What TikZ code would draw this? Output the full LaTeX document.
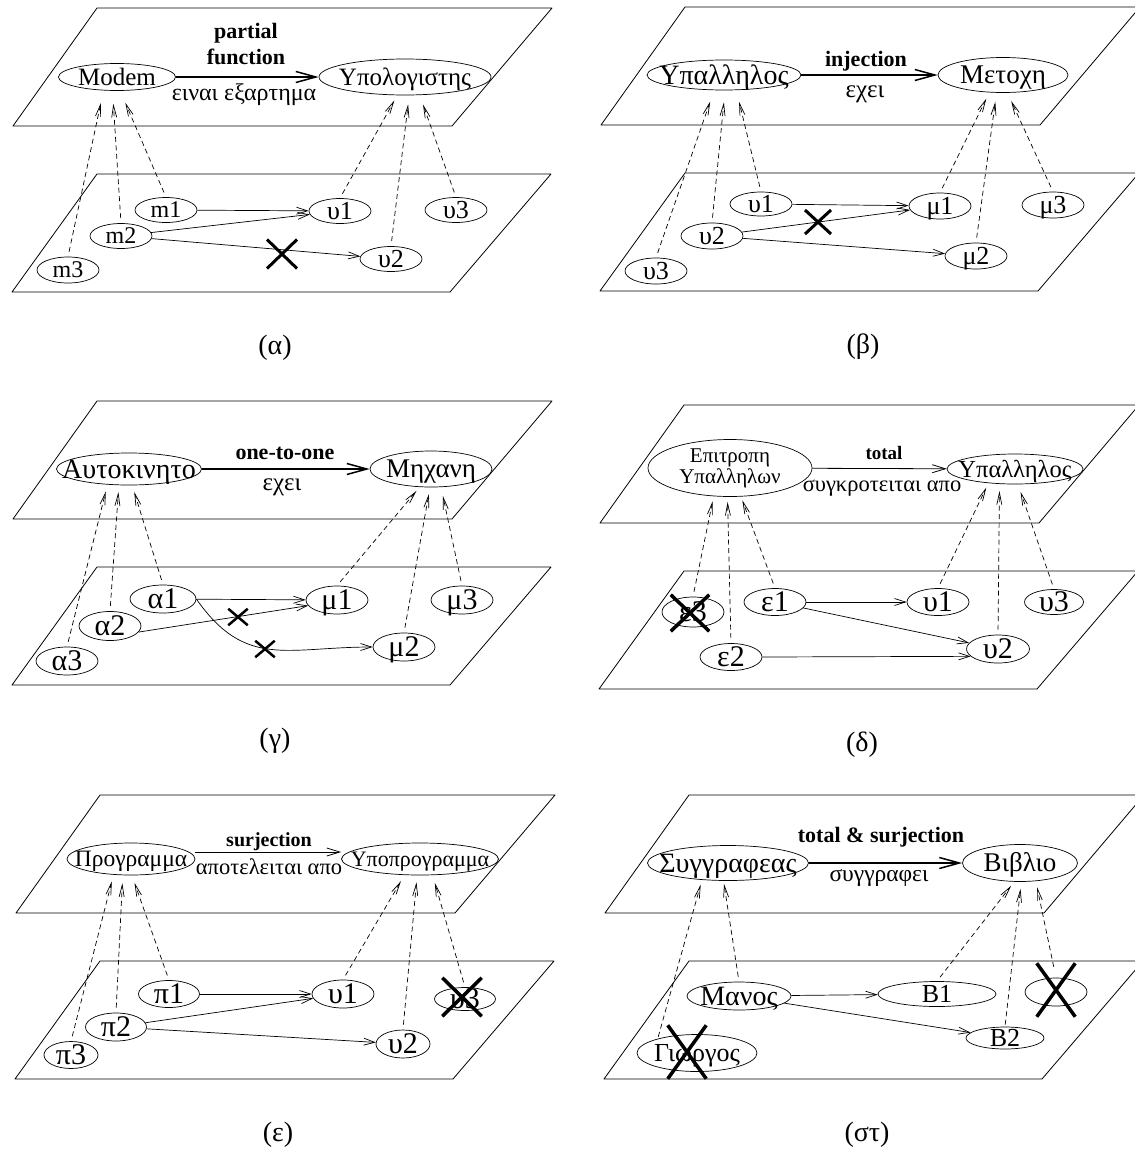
\documentclass[tikz,border=0pt]{standalone}
\usepackage{fontspec}
\setmainfont{Liberation Serif}
\usetikzlibrary{arrows.meta,shapes.misc,shapes.geometric}
\newcommand{\fsz}[1]{\fontsize{#1}{#1}\selectfont}
\tikzset{
  plane/.style={line width=0.8pt},
  fnt/.style={font=\fsz{#1}, text height=0.75*#1, text depth=0.09*#1},
  ent/.style={ellipse, draw, line width=0.7pt, inner xsep=-40pt, inner ysep=-15pt},
  inst/.style={ellipse, draw, line width=0.7pt, inner xsep=-40pt, inner ysep=-15pt,
    minimum width=62, minimum height=26},
  rel/.style={line width=1.5pt, -{Straight Barb[length=20pt,width=11pt]}},
  relthin/.style={line width=0.8pt, -{Straight Barb[length=13pt,width=8pt]}},
  map/.style={line width=0.7pt, -{Straight Barb[length=11pt,width=7pt]}},
  proj/.style={line width=0.7pt, dash pattern=on 5pt off 3.5pt,
    -{Straight Barb[length=12pt,width=5pt]}, shorten <=5pt, shorten >=8pt},
  nope/.style={cross out, draw, line width=3pt, inner sep=0pt},
  lbl/.style={inner sep=0pt},
  caption/.style={inner sep=0pt, font=\fsz{28}},
}
\begin{document}
\begin{tikzpicture}[x=1pt,y=-1pt,line join=round]
  \useasboundingbox (0,0) rectangle (1135,1149);
  % the two planes of every panel, with its caption
  \foreach \dx/\dy/\capt/\nm in {0/0/α/a, 588/-1/β/b, 0/393/γ/c,
      587/397/δ/d, 3/787/ε/e, 592/787/στ/f}{
    \begin{scope}[shift={(\dx,\dy)}]
      \draw[plane] (13,126) -- (452,126) -- (552,8) -- (97,8) -- cycle;
      \draw[plane] (12,292) -- (450,292) -- (551,174) -- (97,174) -- cycle;
      \node[caption] (cap-\nm) at (275,348) {(\capt)};
    \end{scope}
  }

  % (α) partial function
  \node[ent, fnt=25, minimum width=117, minimum height=27] (modem) at (117,77) {Modem};
  \node[ent, fnt=25, minimum width=172, minimum height=36] (pc) at (405,77) {Υπολογιστης};
  \node[lbl, font=\bfseries\fsz{22}] (a-name1) at (246,33) {partial};
  \node[lbl, font=\bfseries\fsz{22}] (a-name2) at (246,57) {function};
  \node[lbl, font=\fsz{24}] (a-verb) at (244,95) {ειναι εξαρτημα};
  \draw[rel] (modem) -- (pc);
  \node[inst, fnt=24, minimum height=25] (am1) at (166,210) {m1};
  \node[inst, fnt=24, minimum height=25] (am2) at (121,236) {m2};
  \node[inst, fnt=24] (am3) at (68,270) {m3};
  \node[inst, fnt=26, minimum height=25] (au1) at (340,211) {υ1};
  \node[inst, fnt=26, minimum height=25] (au2) at (391,259) {υ2};
  \node[inst, fnt=26, minimum height=25] (au3) at (456,210) {υ3};
  \draw[map] (am1) -- (au1);
  \draw[map] (am2) -- (au1);
  \draw[map] (am2) -- (au2);
  \node[nope, minimum width=27, minimum height=26] (ax) at (282,254) {};
  \draw[proj, shorten >=13pt] (am3.north) -- (modem.225);
  \draw[proj, shorten >=13pt] (am2.north) -- (modem.252);
  \draw[proj, shorten >=13pt] (am1.north) -- (modem.283);
  \draw[proj, shorten >=6pt] (au1.north) -- (pc.247);
  \draw[proj, shorten >=9pt] (au2.north) -- (pc.283);
  \draw[proj, shorten >=10pt] (au3.north) -- (pc.309);

  % (β) injection
  \node[ent, fnt=28, minimum width=154, minimum height=30] (emp) at (724,75) {Υπαλληλος};
  \node[ent, fnt=27, minimum width=130, minimum height=35] (share) at (1003,75) {Μετοχη};
  \node[lbl, font=\bfseries\fsz{22}] (b-name) at (866,61) {injection};
  \node[lbl, font=\fsz{25}] (b-verb) at (865,94) {εχει};
  \draw[rel] (emp) -- (share);
  \node[inst, fnt=26, minimum height=24] (bu1) at (761,204) {υ1};
  \node[inst, fnt=26] (bu2) at (712,236) {υ2};
  \node[inst, fnt=26] (bu3) at (656,271) {υ3};
  \node[inst, fnt=26] (bm1) at (940,206) {μ1};
  \node[inst, fnt=26] (bm2) at (976,256) {μ2};
  \node[inst, fnt=26] (bm3) at (1053,205) {μ3};
  \draw[map] (bu1) -- (bm1);
  \draw[map] (bu2) -- (bm1);
  \draw[map] (bu2) -- (bm2);
  \node[nope, minimum width=23, minimum height=21] (bx) at (818,222) {};
  \draw[proj, shorten >=12pt] (bu3.north) -- (emp.237);
  \draw[proj, shorten >=12pt] (bu2.north) -- (emp.274);
  \draw[proj, shorten >=12pt] (bu1.north) -- (emp.309);
  \draw[proj, shorten >=7pt] (bm1.north) -- (share.232);
  \draw[proj, shorten >=9pt] (bm2.north) -- (share.250);
  \draw[proj, shorten >=9pt] (bm3.north) -- (share.284);

  % (γ) one-to-one
  \node[ent, fnt=28, minimum width=145, minimum height=32] (car) at (129,469) {Αυτοκινητο};
  \node[ent, fnt=27, minimum width=122, minimum height=36] (engine) at (431,469) {Μηχανη};
  \node[lbl, font=\bfseries\fsz{22}] (c-name) at (285,453) {one-to-one};
  \node[lbl, font=\fsz{25}] (c-verb) at (282,487) {εχει};
  \draw[rel] (car) -- (engine);
  \node[inst, fnt=30, minimum width=66, minimum height=28] (ga1) at (163,599) {α1};
  \node[inst, fnt=30, minimum height=29] (ga2) at (110,626) {α2};
  \node[inst, fnt=30, minimum height=28] (ga3) at (67,661) {α3};
  \node[inst, fnt=30, minimum height=28] (gm1) at (337,600) {μ1};
  \node[inst, fnt=30, minimum height=28] (gm2) at (404,647) {μ2};
  \node[inst, fnt=30, minimum height=28] (gm3) at (462,600) {μ3};
  \draw[map] (ga1) -- (gm1);
  \draw[map] (ga2.-12) -- (gm1.191);
  \draw[map] (ga1.east) to[out=-55,in=180,looseness=1.2] (gm2.west);
  \node[nope, line width=2.5pt, minimum width=17, minimum height=14] (gx1) at (238,617) {};
  \node[nope, line width=2.5pt, minimum width=17, minimum height=14] (gx2) at (265,649) {};
  \draw[proj, shorten >=7pt] (ga3.north) -- (car.216);
  \draw[proj, shorten >=7pt] (ga2.north) -- (car.238);
  \draw[proj, shorten >=7pt] (ga1.north) -- (car.281);
  \draw[proj, shorten >=5pt] (gm1.north) -- (engine.238);
  \draw[proj, shorten >=7pt] (gm2.north) -- (engine.267);
  \draw[proj, shorten >=9pt] (gm3.north) -- (engine.299);

  % (δ) total
  \node[ent, font=\fontsize{21}{21}\selectfont, align=center, minimum width=164,
    minimum height=57] (board) at (730,468) {Επιτροπη\\Υπαλληλων};
  \node[ent, fnt=24.5, minimum width=136, minimum height=30] (employee) at (1015,469) {Υπαλληλος};
  \node[lbl, font=\bfseries\fsz{19}] (d-name) at (884,453) {total};
  \node[lbl, font=\fsz{22.5}] (d-verb) at (882,488) {συγκροτειται απο};
  \draw[relthin] (board) -- (employee);
  \node[inst, fnt=30, minimum height=30] (de3) at (693,612) {ε3};
  \node[inst, fnt=30, minimum height=27] (de1) at (775,602) {ε1};
  \node[inst, fnt=30, minimum height=27] (de2) at (731,657) {ε2};
  \node[inst, fnt=30, minimum height=27] (du1) at (938,602) {υ1};
  \node[inst, fnt=30, minimum width=63, minimum height=28] (du2) at (998,649) {υ2};
  \node[inst, fnt=30, minimum width=59, minimum height=25] (du3) at (1054,602) {υ3};
  \draw[map] (de1) -- (du1);
  \draw[map] (de1) -- (du2);
  \draw[map] (de2.east) -- (du2.195);
  \node[nope, line width=3.5pt, minimum width=35, minimum height=33] (dx) at (690,613) {};
  \draw[proj, shorten >=5pt] (de3.north) -- (board.240);
  \draw[proj, shorten >=5pt] (de2.north) -- (board.265);
  \draw[proj, shorten >=4pt] (de1.north) -- (board.291);
  \draw[proj, shorten >=5pt] (du1.north) -- (employee.208);
  \draw[proj, shorten >=7pt] (du2.north) -- (employee.224);
  \draw[proj, shorten >=8pt] (du3.north) -- (employee.281);

  % (ε) surjection
  \node[ent, fnt=23.5, minimum width=128, minimum height=32] (prog) at (131,859) {Προγραμμα};
  \node[ent, fnt=22, minimum width=157, minimum height=32] (sub) at (420,859) {Υποπρογραμμα};
  \node[lbl, font=\bfseries\fsz{20}] (e-name) at (269,842) {surjection};
  \node[lbl, font=\fsz{22.5}] (e-verb) at (269,867) {αποτελειται απο};
  \draw[relthin] ([yshift=7pt]prog.east) -- ([yshift=7pt]sub.west);
  \node[inst, fnt=30, minimum width=61, minimum height=27] (ep1) at (169,994) {π1};
  \node[inst, fnt=30, minimum width=61, minimum height=28] (ep2) at (116,1027) {π2};
  \node[inst, fnt=30, minimum width=54, minimum height=27] (ep3) at (71,1055) {π3};
  \node[inst, fnt=30, minimum height=28] (eu1) at (343,994) {υ1};
  \node[inst, fnt=30, minimum width=54, minimum height=28] (eu2) at (403,1044) {υ2};
  \node[inst, fnt=30, minimum width=61, minimum height=23] (eu3) at (465,999) {υ3};
  \draw[map] (ep1) -- (eu1);
  \draw[map] (ep2) -- (eu1);
  \draw[map] (ep2) -- (eu2);
  \node[nope, line width=3.5pt, minimum width=36, minimum height=35] (ex) at (462,997) {};
  \draw[proj, shorten >=7pt] (ep3.north) -- (prog.222);
  \draw[proj, shorten >=8pt] (ep2.north) -- (prog.243);
  \draw[proj, shorten >=8pt] (ep1.north) -- (prog.273);
  \draw[proj, shorten >=7pt] (eu1.north) -- (sub.226);
  \draw[proj, shorten >=7pt] (eu2.north) -- (sub.260);
  \draw[proj, shorten >=8pt] (eu3.north) -- (sub.308);

  % (στ) total & surjection
  \node[ent, fnt=28, minimum width=161, minimum height=35] (author) at (728,863) {Συγγραφεας};
  \node[ent, fnt=27, minimum width=115, minimum height=37] (book) at (1020,863) {Βιβλιο};
  \node[lbl, font=\bfseries\fsz{22}] (f-name) at (881,837) {total \& surjection};
  \node[lbl, font=\fsz{23.5}] (f-verb) at (879,878) {συγγραφει};
  \draw[rel] (author) -- (book);
  \node[inst, fnt=28, minimum width=104, minimum height=28] (manos) at (739,996) {Μανος};
  \node[inst, fnt=26, minimum width=118, minimum height=25] (b1) at (937,994) {Β1};
  \node[inst, fnt=26, minimum width=78, minimum height=22] (b2) at (1005,1038) {Β2};
  \node[inst, minimum width=62, minimum height=28] (blank) at (1056,992) {};
  \node[inst, fnt=26, minimum width=120, minimum height=37] (giorgos) at (697,1053) {Γιωργος};
  \draw[map] (manos) -- (b1);
  \draw[map] (manos) -- (b2);
  \node[nope, line width=3.5pt, minimum width=35, minimum height=50] (fx1) at (1056,990) {};
  \node[nope, line width=3.5pt, minimum width=35, minimum height=50] (fx2) at (687,1052) {};
  \draw[proj, shorten <=2pt, shorten >=5pt] (giorgos.160) -- (author.213);
  \draw[proj, shorten >=3pt] (manos.north) -- (author.256);
  \draw[proj, shorten >=5pt] (b1.north) -- (book.253);
  \draw[proj, shorten <=2pt, shorten >=7pt] (b2.north) -- (book.274);
  \draw[proj, shorten <=11pt, shorten >=6pt] (blank.north) -- (book.311);
\end{tikzpicture}
\end{document}
